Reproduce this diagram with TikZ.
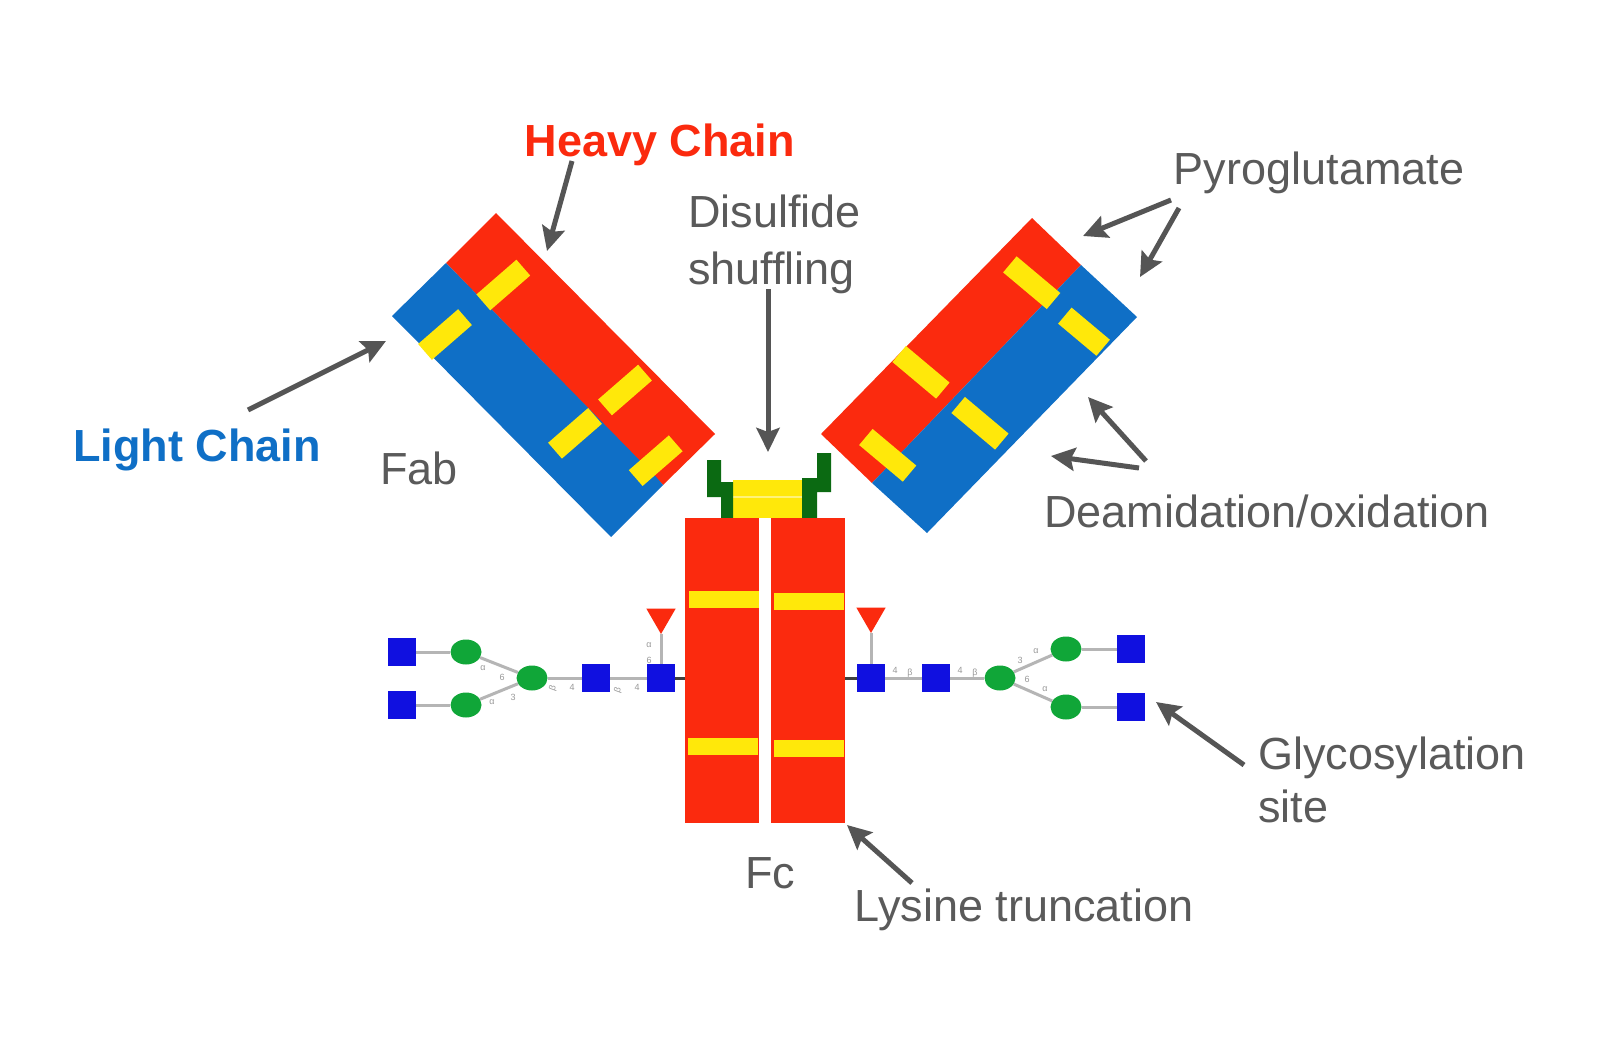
\documentclass[tikz,border=0pt]{standalone}
\usepackage{fontspec}
\setmainfont{Liberation Sans}
\usetikzlibrary{arrows.meta,shapes.geometric}
\definecolor{chred}{HTML}{FB2A0E}
\definecolor{chblue}{HTML}{0F6FC6}
\definecolor{chyellow}{HTML}{FFE80A}
\definecolor{hinge}{HTML}{0B6A12}
\definecolor{sqblue}{HTML}{1010E0}
\definecolor{glygreen}{HTML}{10A638}
\definecolor{txtgray}{HTML}{5A5A5A}
\definecolor{arrgray}{HTML}{555555}
\definecolor{linkgray}{HTML}{B5B5B5}
\tikzset{
  x=1pt,y=-1pt,
  lab/.style={text=txtgray,font=\fontsize{45}{57}\selectfont,inner sep=0pt},
  chain/.style={text=#1,font=\fontsize{45}{50}\selectfont\bfseries,inner sep=0pt},
  barL/.style={fill=chyellow,minimum width=53pt,minimum height=21pt,inner sep=0pt,rotate=41},
  barR/.style={fill=chyellow,minimum width=57pt,minimum height=21pt,inner sep=0pt,rotate=-40},
  barH/.style={fill=chyellow,minimum width=70pt,minimum height=17pt,inner sep=0pt},
  arm/.style={fill=chred,minimum width=74pt,minimum height=305pt,inner sep=0pt},
  ptr/.style={draw=arrgray,line width=5pt,-{Stealth[length=24pt,width=23pt,inset=4pt]}},
  glcnac/.style={fill=sqblue,minimum size=28pt,inner sep=0pt},
  man/.style={ellipse,fill=glygreen,minimum width=31pt,minimum height=25pt,inner sep=0pt},
  fuc/.style={regular polygon,regular polygon sides=3,shape border rotate=180,fill=chred,minimum size=34pt,inner sep=0pt},
  link/.style={draw=linkgray,line width=3pt},
  stub/.style={draw=black!75,line width=3pt},
  tiny/.style={text=gray!80,font=\fontsize{9}{9}\selectfont,inner sep=0pt},
}
\begin{document}
\begin{tikzpicture}
\useasboundingbox (0,0) rectangle (1600,1060);
\fill[white] (0,0) rectangle (1600,1060);
% left Fab
\fill[chred] (496,213) -- (715,434) -- (663,485) -- (446,263) -- cycle;
\fill[chblue] (446,263) -- (392,316) -- (611,537) -- (663,485) -- (657,478) -- cycle;
\node[barL] (bl1) at (503.3,285) {};
\node[barL] (bl2) at (445,334.5) {};
\node[barL] (bl3) at (625,390) {};
\node[barL] (bl4) at (575,433.3) {};
\node[barL] (bl5) at (655.7,460.7) {};
% right Fab
\fill[chred] (1032,218) -- (1081,265) -- (872,483) -- (821,434) -- cycle;
\fill[chblue] (1081,265) -- (1137,317) -- (927,533) -- (872,483) -- cycle;
\node[barR] (br1) at (1031.7,282.7) {};
\node[barR,minimum width=50pt] (br2) at (1084,331.7) {};
\node[barR] (br3) at (921,372.3) {};
\node[barR] (br4) at (980,423.3) {};
\node[barR] (br5) at (887.7,455.3) {};
% hinge
\fill[chyellow] (733,480) rectangle (802,518);
\draw[chyellow!55!white,line width=2pt] (733,497) -- (802,497);
\fill[hinge] (707,460) -- (721,460) -- (721,482) -- (733,482) -- (733,518) -- (721,518) -- (721,497) -- (707,497) -- cycle;
\fill[hinge] (817,453) -- (831,453) -- (831,492) -- (817,492) -- (817,518) -- (802,518) -- (802,478) -- (817,478) -- cycle;
% Fc
\node[arm] (fcl) at (722,670.5) {};
\node[arm] (fcr) at (808,670.5) {};
\node[barH] (h1) at (723.5,599.5) {};
\node[barH] (h2) at (809,601.5) {};
\node[barH] (h3) at (723,746.5) {};
\node[barH] (h4) at (809,748.5) {};
% left glycan
\node[glcnac] (a1) at (402,652) {};
\node[glcnac] (a2) at (402,705) {};
\node[man] (a3) at (466,652) {};
\node[man] (a4) at (466,705) {};
\node[man] (a5) at (532,678) {};
\node[glcnac] (a6) at (596,678) {};
\node[glcnac] (a7) at (661,678) {};
\node[fuc] (a8) at (661,617) {};
\draw[link] (a1) -- (a3);
\draw[link] (a2) -- (a4);
\draw[link] (a3) -- (a5);
\draw[link] (a4) -- (a5);
\draw[link] (a5) -- (a6);
\draw[link] (a6) -- (a7);
\draw[link] (a8) -- (a7);
\draw[stub] (a7) -- (fcl.west |- a7);
\node[tiny] at (483,668) {α};
\node[tiny] at (502,677) {6};
\node[tiny] at (492,702) {α};
\node[tiny] at (513,697) {3};
\node[tiny,rotate=70] at (553,688) {β};
\node[tiny] at (572,687) {4};
\node[tiny,rotate=70] at (618,690) {β};
\node[tiny] at (637,687) {4};
\node[tiny] at (649,645) {α};
\node[tiny] at (649,660) {6};
% right glycan
\node[glcnac] (b1) at (871,678) {};
\node[glcnac] (b2) at (936,678) {};
\node[man] (b3) at (1000,678) {};
\node[man] (b4) at (1066,649) {};
\node[man] (b5) at (1066,707) {};
\node[glcnac] (b6) at (1131,649) {};
\node[glcnac] (b7) at (1131,707) {};
\node[fuc] (b8) at (871,616) {};
\draw[link] (b1) -- (b2);
\draw[link] (b2) -- (b3);
\draw[link] (b3) -- (b4);
\draw[link] (b3) -- (b5);
\draw[link] (b4) -- (b6);
\draw[link] (b5) -- (b7);
\draw[link] (b8) -- (b1);
\draw[stub] (b1) -- (fcr.east |- b1);
\node[tiny] at (895,670) {4};
\node[tiny] at (910,673) {β};
\node[tiny] at (960,670) {4};
\node[tiny] at (975,673) {β};
\node[tiny] at (1020,660) {3};
\node[tiny] at (1036,651) {α};
\node[tiny] at (1027,679) {6};
\node[tiny] at (1045,689) {α};
% labels
\node[chain=chred] (heavy) at (660,145) {Heavy Chain};
\node[chain=chblue] (light) at (197,450) {Light Chain};
\node[lab] (fab) at (419,468) {Fab};
\node[lab,align=left,anchor=north west] (dis) at (688,195) {Disulfide\\shuffling};
\node[lab] (pyro) at (1319,173) {Pyroglutamate};
\node[lab] (deam) at (1267,511) {Deamidation/oxidation};
\node[lab,align=left,anchor=north west] (gly) at (1258,737) {Glycosylation\\[-4pt]site};
\node[lab] (fc) at (770,873) {Fc};
\node[lab] (lys) at (1024,910) {Lysine truncation};
% arrows
\coordinate (p1s) at (572,161); \coordinate (p1e) at (547,251);
\coordinate (p2s) at (248,410); \coordinate (p2e) at (386,341);
\coordinate (p3s) at (768,289); \coordinate (p3e) at (768,452);
\coordinate (p4s) at (1171,200); \coordinate (p4e) at (1083,236);
\coordinate (p5s) at (1179,208); \coordinate (p5e) at (1140,277);
\coordinate (p6s) at (1146,461); \coordinate (p6e) at (1088,397);
\coordinate (p7s) at (1139,468); \coordinate (p7e) at (1051,456);
\coordinate (p8s) at (1244,765); \coordinate (p8e) at (1156,702);
\coordinate (p9s) at (912,883); \coordinate (p9e) at (847,825);
\foreach \i in {1,...,9} {\draw[ptr] (p\i s) -- (p\i e);}
\end{tikzpicture}
\end{document}
